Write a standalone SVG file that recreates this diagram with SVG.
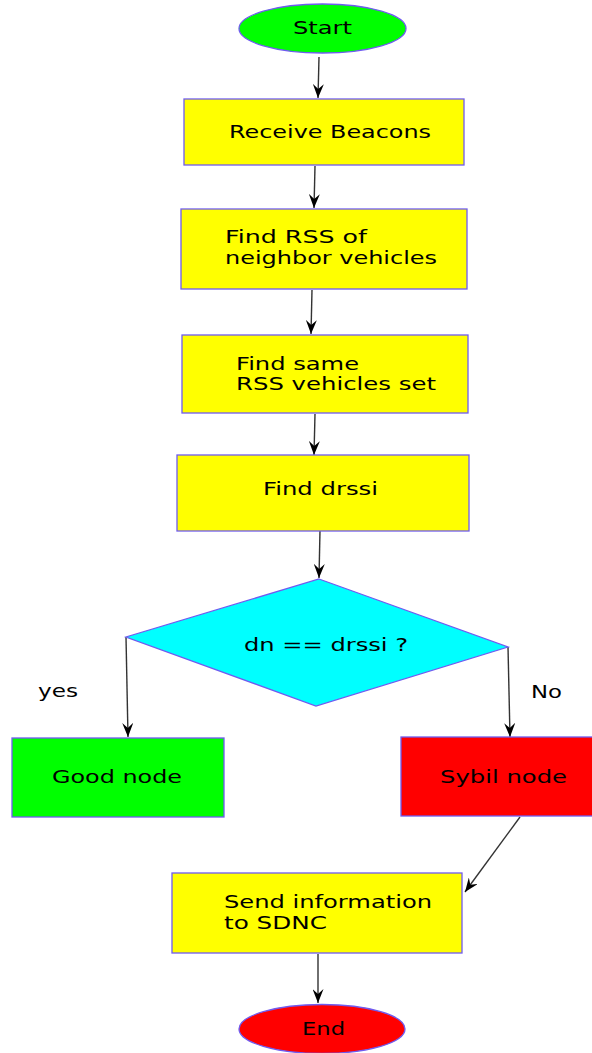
<svg xmlns="http://www.w3.org/2000/svg" width="592" height="1053" viewBox="0 0 592 1053">
<style>
.box{stroke:#6f5bf0;stroke-width:1.3}
.yel{fill:#ffff00}
.t{font-family:"DejaVu Sans",Verdana,sans-serif;font-size:17.5px;fill:#000}
.c{fill:none;stroke:#333;stroke-width:1.4}
</style>
<defs>
<marker id="ah" viewBox="0 0 14 11" refX="14" refY="5.5" markerWidth="14" markerHeight="11" markerUnits="userSpaceOnUse" orient="auto">
<path d="M0,0 L14,5.5 L0,11 L5,5.5 z" fill="#000"/>
</marker>
</defs>
<rect width="592" height="1053" fill="#fff"/>
<g id="connectors">
<line class="c" x1="319" y1="57" x2="318" y2="98" marker-end="url(#ah)"/>
<line class="c" x1="315" y1="166" x2="314" y2="208" marker-end="url(#ah)"/>
<line class="c" x1="312" y1="290" x2="311" y2="334" marker-end="url(#ah)"/>
<line class="c" x1="315" y1="414" x2="314" y2="455" marker-end="url(#ah)"/>
<line class="c" x1="320" y1="530" x2="319" y2="578" marker-end="url(#ah)"/>
<line class="c" x1="126" y1="637" x2="128" y2="737" marker-end="url(#ah)"/>
<line class="c" x1="508" y1="647" x2="510" y2="737" marker-end="url(#ah)"/>
<line class="c" x1="520" y1="817" x2="465" y2="892" marker-end="url(#ah)"/>
<line class="c" x1="318" y1="954" x2="318" y2="1003" marker-end="url(#ah)"/>
</g>
<g id="start">
<ellipse class="box" cx="322.5" cy="28.5" rx="83.5" ry="24.5" fill="#00ff00"/>
<text class="t" x="293" y="34" textLength="59" lengthAdjust="spacingAndGlyphs">Start</text>
</g>
<g id="receive">
<rect class="box yel" x="184" y="99" width="280" height="66"/>
<text class="t" x="229" y="138" textLength="202" lengthAdjust="spacingAndGlyphs">Receive Beacons</text>
</g>
<g id="findrss">
<rect class="box yel" x="181" y="209" width="286" height="80"/>
<text class="t" x="225" y="243" textLength="142" lengthAdjust="spacingAndGlyphs">Find RSS of</text>
<text class="t" x="225" y="264" textLength="212" lengthAdjust="spacingAndGlyphs">neighbor vehicles</text>
</g>
<g id="findsame">
<rect class="box yel" x="182" y="335" width="286" height="78"/>
<text class="t" x="236" y="370" textLength="123" lengthAdjust="spacingAndGlyphs">Find same</text>
<text class="t" x="236" y="390" textLength="200" lengthAdjust="spacingAndGlyphs">RSS vehicles set</text>
</g>
<g id="finddrssi">
<rect class="box yel" x="177" y="455" width="292" height="76"/>
<text class="t" x="263" y="495" textLength="115" lengthAdjust="spacingAndGlyphs">Find drssi</text>
</g>
<g id="decision">
<polygon class="box" points="319,579 508,647 316,706 126,637" fill="#00ffff"/>
<text class="t" x="244" y="651" textLength="164" lengthAdjust="spacingAndGlyphs">dn == drssi ?</text>
</g>
<g id="labels">
<text class="t" x="38" y="697" textLength="40" lengthAdjust="spacingAndGlyphs">yes</text>
<text class="t" x="531" y="698" textLength="31" lengthAdjust="spacingAndGlyphs">No</text>
</g>
<g id="good">
<rect class="box" x="12" y="738" width="212" height="79" fill="#00ff00"/>
<text class="t" x="52" y="783" textLength="130" lengthAdjust="spacingAndGlyphs">Good node</text>
</g>
<g id="sybil">
<rect class="box" x="401" y="737" width="195" height="79" fill="#ff0000"/>
<text class="t" x="440" y="783" textLength="127" lengthAdjust="spacingAndGlyphs">Sybil node</text>
</g>
<g id="send">
<rect class="box yel" x="172" y="873" width="290" height="80"/>
<text class="t" x="224" y="908" textLength="208" lengthAdjust="spacingAndGlyphs">Send information</text>
<text class="t" x="224" y="929" textLength="103" lengthAdjust="spacingAndGlyphs">to SDNC</text>
</g>
<g id="end">
<ellipse class="box" cx="322" cy="1029" rx="83" ry="24.5" fill="#ff0000"/>
<text class="t" x="302" y="1035" textLength="43" lengthAdjust="spacingAndGlyphs">End</text>
</g>
</svg>
